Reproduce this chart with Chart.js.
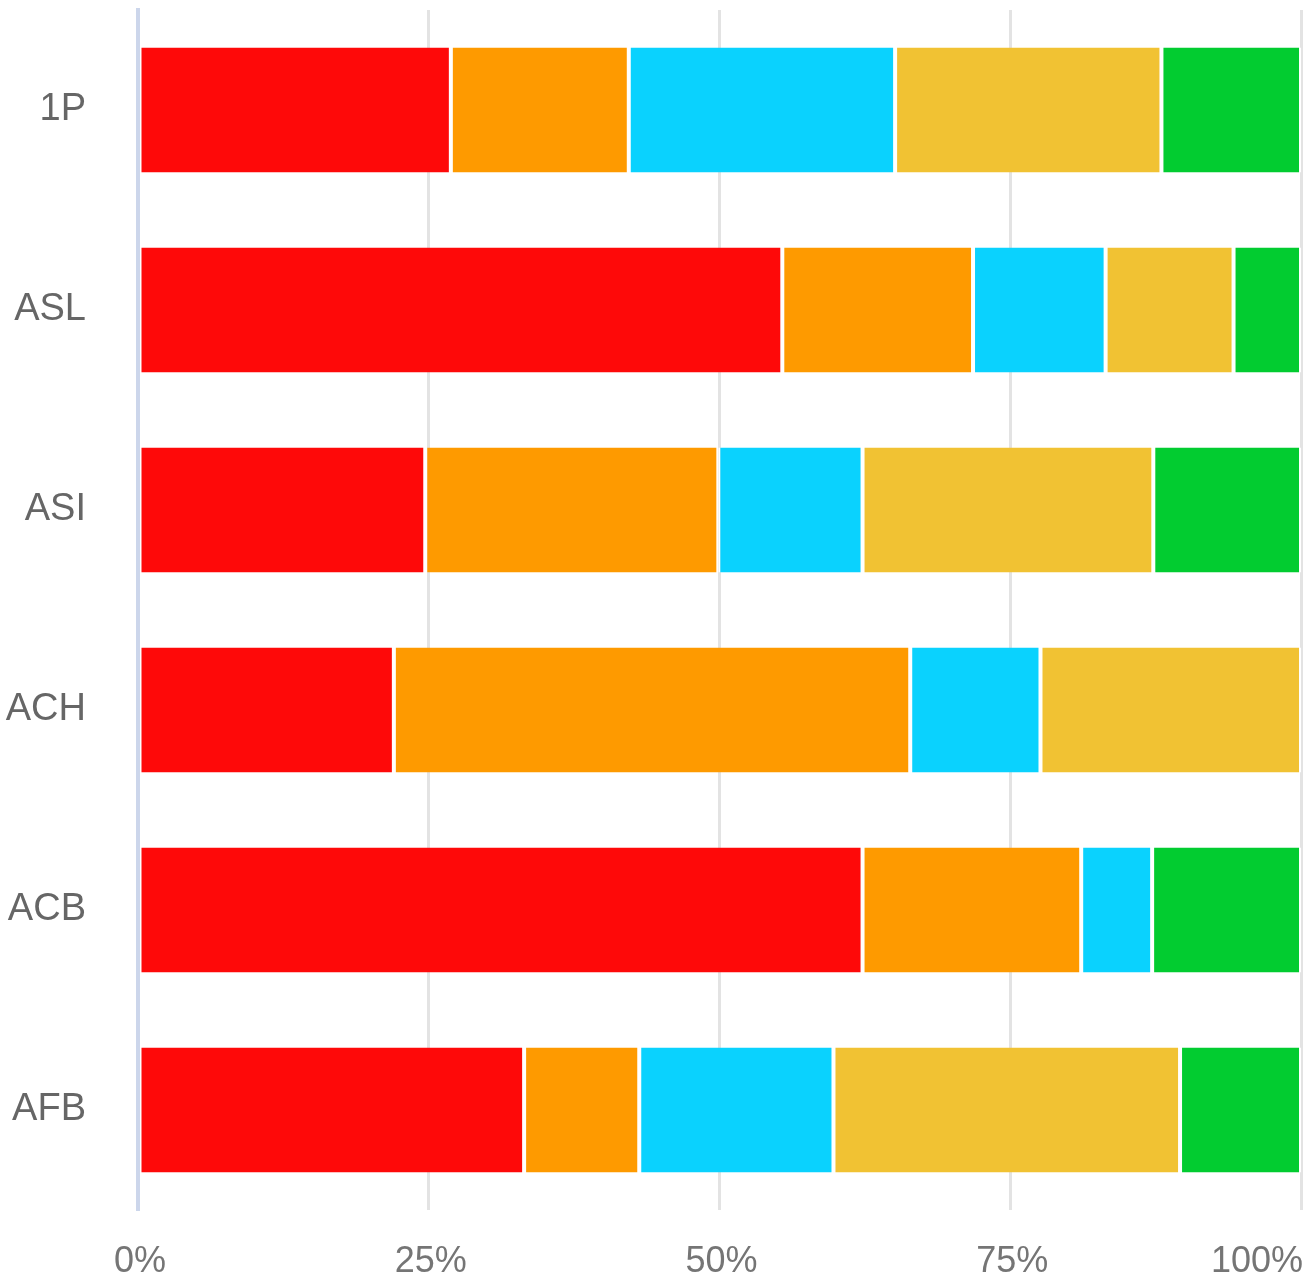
<!DOCTYPE html>
<html>
<head>
<meta charset="utf-8">
<script src="https://cdn.jsdelivr.net/npm/chart.js@4/dist/chart.umd.min.js"></script>
<style>
    body { margin: 0; background: #ffffff; }
    #wrap { width: 1306px; height: 1288px; position: relative; }
</style>
</head>
<body>
<div id="wrap"><canvas id="barChart"></canvas></div>
<script>
let categorii = ["1P", "ASL", "ASI", "ACH", "ACB", "AFB"];
let tickuriX = [0, 25, 50, 75, 100];

let rosu = [26.9, 55.4, 24.7, 22.0, 62.3, 33.2];
let portocaliu = [15.3, 16.4, 25.2, 44.4, 18.8, 9.9];
let albastru = [22.9, 11.4, 12.4, 11.2, 6.1, 16.7];
let galben = [22.9, 11.0, 25.0, 22.4, 0, 29.8];
let verde = [12.0, 5.8, 12.7, 0, 12.8, 10.4];

let culori = ["#fe0909", "#fe9a00", "#0ad2fe", "#f1c233", "#02cc30"];
let serii = [rosu, portocaliu, albastru, galben, verde];

let datasets = [];
for (let i = 0; i < serii.length; i++) {
    datasets.push({
        data: serii[i],
        backgroundColor: culori[i],
        borderColor: "#ffffff",
        borderWidth: { left: 2, right: 2, top: 0, bottom: 0 },
        borderSkipped: false,
        barPercentage: 0.625,
        categoryPercentage: 1
    });
}

// etichetele de jos, ultima aliniata la dreapta
let etichetePlugin = {
    id: "etichete",
    afterDraw: function(chart) {
        let ctx = chart.ctx;
        let scale = chart.scales.x;
        ctx.save();
        ctx.font = "36px 'Liberation Sans', Arial, sans-serif";
        ctx.fillStyle = "#757575";
        ctx.textBaseline = "middle";
        for (let i = 0; i < tickuriX.length; i++) {
            let px = scale.getPixelForValue(tickuriX[i]);
            if (i === tickuriX.length - 1) {
                ctx.textAlign = "right";
                px = px + 2;
            } else {
                ctx.textAlign = "center";
                px = px + 2;
            }
            ctx.fillText(tickuriX[i] + "%", px, 1262);
        }
        ctx.restore();
    }
};

new Chart(document.getElementById("barChart"), {
    type: "bar",
    data: {
        labels: categorii,
        datasets: datasets
    },
    options: {
        indexAxis: "y",
        responsive: true,
        maintainAspectRatio: false,
        animation: false,
        layout: { padding: { top: 10, right: 5, left: 0, bottom: 0 } },
        plugins: {
            legend: { display: false },
            tooltip: { enabled: false }
        },
        scales: {
            x: {
                stacked: true,
                min: 0,
                max: 100,
                afterBuildTicks: function(scale) {
                    scale.ticks = tickuriX.map(function(v) { return { value: v }; });
                },
                afterFit: function(scale) {
                    scale.height = 78;
                },
                ticks: { display: false },
                grid: {
                    color: function(c) {
                        return c.tick && c.tick.value === 0 ? "rgba(0,0,0,0)" : "#e3e3e3";
                    },
                    lineWidth: 3,
                    drawTicks: false
                },
                border: { display: false }
            },
            y: {
                stacked: true,
                afterFit: function(scale) {
                    scale.width = 138;
                    scale.paddingTop = 0;
                    scale.paddingBottom = 0;
                },
                ticks: {
                    color: "#666666",
                    padding: 52,
                    crossAlign: "near",
                    font: { family: "'Liberation Sans', Arial, sans-serif", size: 38 }
                },
                grid: { display: false, drawTicks: false },
                border: { color: "#ccd6eb", width: 4, z: 1 }
            }
        }
    },
    plugins: [etichetePlugin]
});
</script>
</body>
</html>
